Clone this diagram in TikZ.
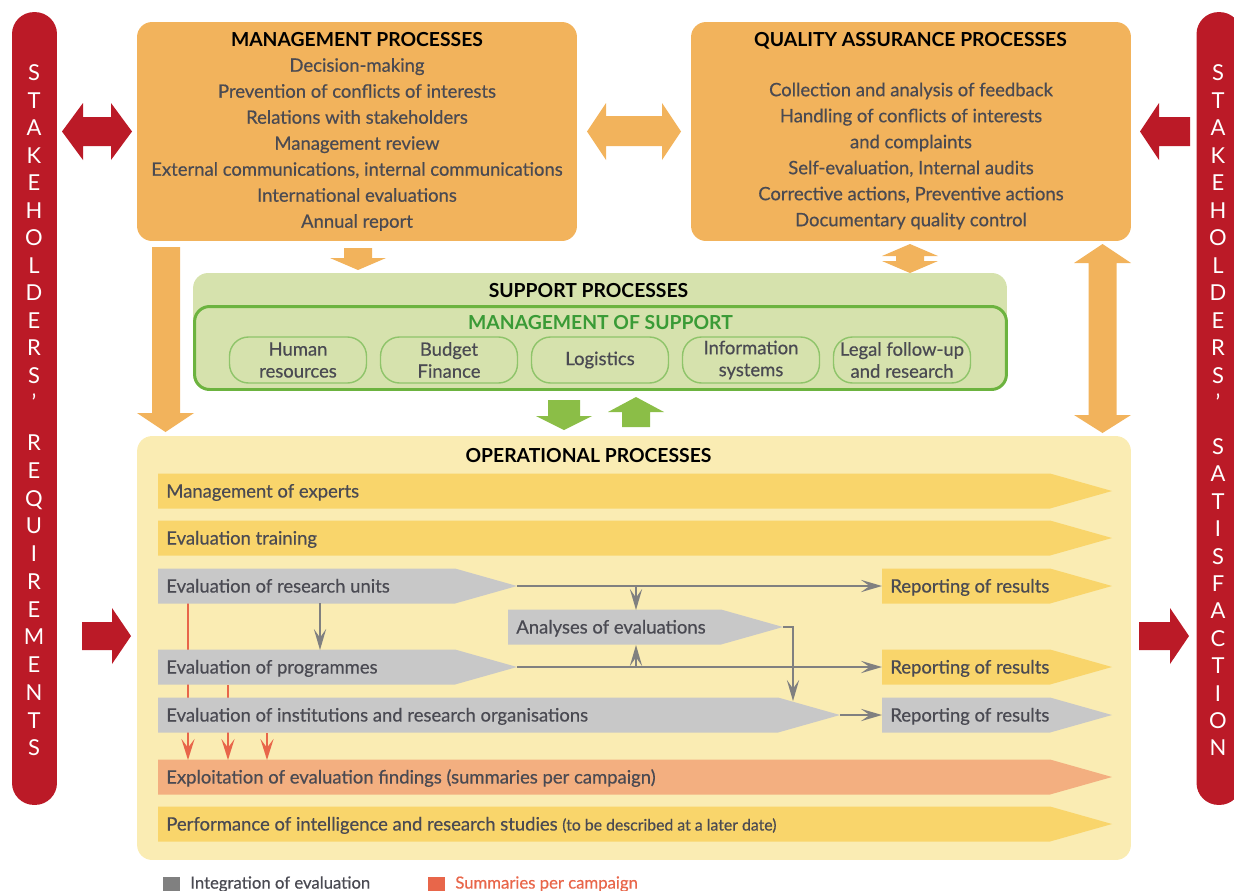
\documentclass[tikz,border=0pt]{standalone}
\usepackage{fontspec}
\setmainfont{Lato}
\newfontfamily\medfont{Lato}[FakeBold=0.5]
\usetikzlibrary{arrows.meta}
\definecolor{barred}{HTML}{BB1A27}
\definecolor{mgmt}{HTML}{F2B35C}
\definecolor{opbg}{HTML}{FAECB3}
\definecolor{rowy}{HTML}{F9D56B}
\definecolor{rowg}{HTML}{C8C8C8}
\definecolor{rows}{HTML}{F3AF80}
\definecolor{supbg}{HTML}{D6E2AD}
\definecolor{supln}{HTML}{6CB33F}
\definecolor{pilln}{HTML}{8FC46A}
\definecolor{supttl}{HTML}{3A9B36}
\definecolor{grn}{HTML}{8BBE47}
\definecolor{txt}{HTML}{4A4A52}
\definecolor{lnk}{HTML}{808080}
\definecolor{sumln}{HTML}{E8664A}
\tikzset{box/.style={rectangle,rounded corners=0.3cm,inner sep=0pt}}
\tikzset{ttl/.style={text=black,inner sep=0pt,text height=7.9pt,text depth=0pt,font=\fontsize{11}{13}\selectfont\bfseries}}
\tikzset{items/.style={align=center,text=txt,inner sep=0pt,font=\medfont\fontsize{10.5}{14.8}\selectfont}}
\tikzset{pill/.style={draw=pilln,line width=0.8pt,fill=supbg,rounded corners=0.38cm,minimum width=2.74cm,minimum height=0.92cm,align=center,text=txt,inner sep=0pt,font=\medfont\fontsize{10.5}{12.5}\selectfont}}
\tikzset{rowtxt/.style={anchor=base west,text=txt,inner sep=0pt,font=\medfont\fontsize{10.5}{12}\selectfont}}
\tikzset{bartxt/.style={text=white,inner sep=0pt,text height=8.6pt,text depth=0pt,font=\fontsize{12.5}{13}\selectfont}}
\tikzset{garr/.style={lnk,line width=1.1pt,-{Stealth[length=12pt,width=7pt,inset=5pt]}}}
\tikzset{oarr/.style={sumln,line width=1.1pt,-{Stealth[length=12pt,width=7.5pt,inset=5pt]}}}
\tikzset{lgd/.style={anchor=west,inner sep=0pt,font=\medfont\fontsize{9.5}{11}\selectfont}}

% chevron row: name, left x, right x, centre y, colour, text
\newcommand{\oprow}[6]{%
  \fill[#5] (#2,#4-17.5) -- (#3-62,#4-17.5) -- (#3,#4) -- (#3-62,#4+17.5) -- (#2,#4+17.5) -- cycle;
  \coordinate (#1-in) at (#2,#4);
  \coordinate (#1-tip) at (#3,#4);
  \node[rowtxt] (#1) at (#2+8,#4+6.5) {#6};}

\begin{document}
\begin{tikzpicture}[x=0.02cm,y=-0.02cm]
\useasboundingbox (0,0) rectangle (1234,890);

% stakeholder bars
\node[box,fill=barred,rounded corners=0.44cm,minimum width=0.9cm,minimum height=15.86cm] (LB) at (34.5,408.5) {};
\node[box,fill=barred,rounded corners=0.44cm,minimum width=0.9cm,minimum height=15.86cm] (RB) at (1219,408.5) {};
\foreach \c [count=\i from 0] in {S,T,A,K,E,H,O,L,D,E,R,S,’}{
  \node[bartxt] (la\i) at (34,73+27.5*\i) {\c};
  \node[bartxt] (ra\i) at (1218,73+27.5*\i) {\c};}
\foreach \c [count=\i from 0] in {R,E,Q,U,I,R,E,M,E,N,T,S}
  \node[bartxt] (lb\i) at (34,443+27.75*\i) {\c};
\foreach \c [count=\i from 0] in {S,A,T,I,S,F,A,C,T,I,O,N}
  \node[bartxt] (rb\i) at (1218,447+27.4*\i) {\c};

% management and quality assurance
\node[box,fill=mgmt,minimum width=8.8cm,minimum height=4.38cm] (MP) at (357,131.5) {};
\node[ttl] (MPt) at (357,40) {MANAGEMENT PROCESSES};
\node[items] (MPi) at (357,144.5) {Decision-making\\Prevention of conflicts of interests\\Relations with stakeholders\\Management review\\External communications, internal communications\\International evaluations\\Annual report};
\node[box,fill=mgmt,minimum width=8.8cm,minimum height=4.38cm] (QA) at (911,131.5) {};
\node[ttl] (QAt) at (910.5,40) {QUALITY ASSURANCE PROCESSES};
\node[items] (QAi) at (911,156) {Collection and analysis of feedback\\Handling of conflicts of interests\\and complaints\\Self-evaluation, Internal audits\\Corrective actions, Preventive actions\\Documentary quality control};

% block arrows
\fill[barred] (62,131.5) -- (83,103) -- (83,117) -- (111,117) -- (111,103) -- (132,131.5) -- (111,160) -- (111,146) -- (83,146) -- (83,160) -- cycle;
\fill[mgmt] (587,131.5) -- (606,103) -- (606,116) -- (662,116) -- (662,103) -- (681,131.5) -- (662,160) -- (662,146) -- (606,146) -- (606,160) -- cycle;
\fill[barred] (1140,131.5) -- (1159,103) -- (1159,117) -- (1190,117) -- (1190,146) -- (1159,146) -- (1159,160) -- cycle;
\fill[barred] (1189,636) -- (1170,608) -- (1170,622) -- (1139,622) -- (1139,650) -- (1170,650) -- (1170,664) -- cycle;
\fill[barred] (131,636) -- (112,608) -- (112,622) -- (82,622) -- (82,650) -- (112,650) -- (112,664) -- cycle;
\fill[mgmt] (344,248) -- (372,248) -- (372,258) -- (386,258) -- (358,270) -- (330,258) -- (344,258) -- cycle;
\fill[mgmt] (910,244) -- (938,256) -- (924,256) -- (924,261) -- (938,261) -- (910,273) -- (882,261) -- (896,261) -- (896,256) -- (882,256) -- cycle;
\fill[mgmt] (152,247) -- (180,247) -- (180,413) -- (194,413) -- (165.5,432) -- (137,413) -- (152,413) -- cycle;
\fill[mgmt] (1102.5,244) -- (1131,263) -- (1116.5,263) -- (1116.5,415) -- (1131,415) -- (1102.5,433) -- (1074,415) -- (1088.5,415) -- (1088.5,263) -- (1074,263) -- cycle;
\fill[grn] (548,400) -- (580,400) -- (580,416) -- (592,416) -- (564,430) -- (536,416) -- (548,416) -- cycle;
\fill[grn] (636,397) -- (664,412) -- (650,412) -- (650,427) -- (622,427) -- (622,412) -- (608,412) -- cycle;

% support
\node[box,fill=supbg,minimum width=16.28cm,minimum height=2.34cm] (SP) at (600,331.5) {};
\node[ttl] (SPt) at (588.5,291) {SUPPORT PROCESSES};
\node[box,draw=supln,line width=1.7pt,fill=supbg,minimum width=16.24cm,minimum height=1.66cm] (MS) at (600.5,348) {};
\node[ttl,text=supttl] (MSt) at (600.5,323) {MANAGEMENT OF SUPPORT};
\node[pill] (HR) at (298,360) {Human\\resources};
\node[pill] (BF) at (449,360) {Budget\\Finance};
\node[pill] (LG) at (600,360) {Logistics};
\node[pill] (IS) at (751,360) {Information\\systems};
\node[pill] (LF) at (902,360) {Legal follow-up\\and research};

% operational
\node[box,fill=opbg,minimum width=19.88cm,minimum height=8.48cm] (OP) at (634,648) {};
\node[ttl] (OPt) at (588.5,456) {OPERATIONAL PROCESSES};
\oprow{ME}{158}{1112}{491}{rowy}{Management of experts}
\oprow{ET}{158}{1112}{538}{rowy}{Evaluation training}
\oprow{EX}{158}{1112}{777}{rows}{Exploitation of evaluation findings (summaries per campaign)}
\oprow{PR}{158}{1112}{824}{rowy}{Performance of intelligence and research studies {\fontsize{9}{10}\selectfont (to be described at a later date)}}

\coordinate (s1) at (188,603);
\coordinate (s2) at (228,685);
\coordinate (s3) at (267,733);
\coordinate (t1) at (188,760);
\coordinate (t2) at (228,760);
\coordinate (t3) at (267,760);
\draw[oarr] (s1) -- (t1);
\draw[oarr] (s2) -- (t2);
\draw[oarr] (s3) -- (t3);

\oprow{EU}{158}{517}{586}{rowg}{Evaluation of research units}
\oprow{AE}{508}{783}{627}{rowg}{Analyses of evaluations}
\oprow{EP}{158}{517}{667}{rowg}{Evaluation of programmes}
\oprow{EI}{158}{840}{715}{rowg}{Evaluation of institutions and research organisations}
\oprow{RA}{882}{1112}{586}{rowy}{Reporting of results}
\oprow{RB}{882}{1112}{667}{rowy}{Reporting of results}
\oprow{RC}{882}{1112}{715}{rowg}{Reporting of results}

\coordinate (u1) at (320,603);
\coordinate (u2) at (320,650);
\coordinate (a1) at (636,586);
\coordinate (a2) at (636,610);
\coordinate (a3) at (636,667);
\coordinate (a4) at (636,645);
\coordinate (k1) at (793,627);
\coordinate (k2) at (793,701);
\draw[garr] (EU-tip) -- (RA-in);
\draw[garr] (a1) -- (a2);
\draw[garr] (u1) -- (u2);
\draw[garr] (EP-tip) -- (RB-in);
\draw[garr] (a3) -- (a4);
\draw[garr] (AE-tip) -- (k1) -- (k2);
\draw[garr] (EI-tip) -- (RC-in);

% legend
\node[fill=lnk,inner sep=0pt,minimum size=0.34cm] (lg1) at (171.5,885) {};
\node[lgd,text=txt] (lg1t) at (190,884) {Integration of evaluation};
\node[fill=sumln,inner sep=0pt,minimum size=0.34cm] (lg2) at (436.5,885) {};
\node[lgd,text=sumln] (lg2t) at (455,884) {Summaries per campaign};
\end{tikzpicture}
\end{document}
